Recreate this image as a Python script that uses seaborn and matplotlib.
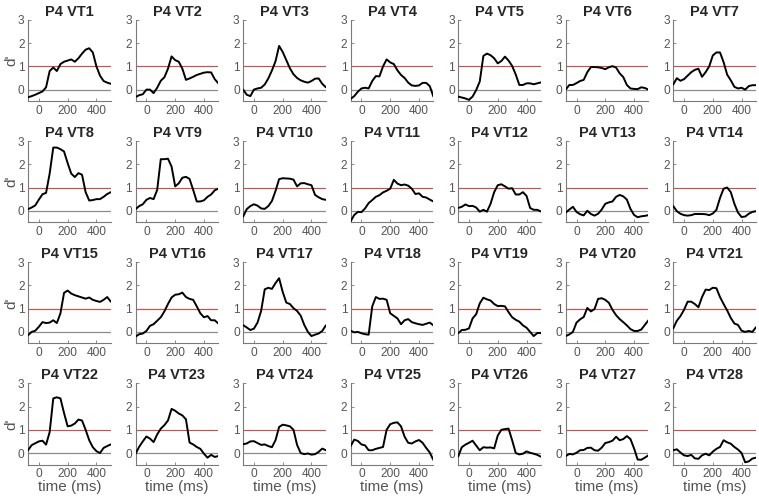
import numpy as np
import pandas as pd
import matplotlib
matplotlib.use('Agg')
import matplotlib.pyplot as plt
import seaborn as sns

sns.set_style('ticks')
plt.rcParams['font.family'] = ['Liberation Sans', 'DejaVu Sans']

# time axis (ms), one value every 25 ms
time_ms = [-75, -50, -25, 0, 25, 50, 75, 100, 125, 150, 175, 200,
           225, 250, 275, 300, 325, 350, 375, 400, 425, 450, 475, 500]

# d' curves, one list per electrode
vt1 = [-0.33, -0.28, -0.22, -0.15, -0.08, 0.1, 0.8, 0.95, 0.8, 1.1, 1.2, 1.25, 1.3, 1.2, 1.35, 1.55, 1.72, 1.78, 1.6, 1.0, 0.6, 0.37, 0.3, 0.25]
vt2 = [-0.32, -0.24, -0.2, 0.0, 0.0, -0.15, 0.08, 0.38, 0.53, 0.9, 1.43, 1.27, 1.2, 0.9, 0.42, 0.48, 0.55, 0.63, 0.68, 0.73, 0.75, 0.74, 0.45, 0.27]
vt3 = [0.0, -0.22, -0.28, 0.0, 0.05, 0.08, 0.22, 0.48, 0.82, 1.22, 1.88, 1.62, 1.27, 0.92, 0.66, 0.5, 0.4, 0.34, 0.3, 0.37, 0.47, 0.48, 0.25, 0.1]
vt4 = [-0.4, -0.28, -0.09, 0.05, 0.08, 0.05, 0.37, 0.58, 0.57, 1.0, 1.3, 1.17, 1.1, 0.83, 0.63, 0.5, 0.3, 0.18, 0.16, 0.18, 0.29, 0.29, 0.15, -0.3]
vt5 = [-0.3, -0.34, -0.38, -0.44, -0.3, -0.02, 0.35, 1.45, 1.55, 1.48, 1.35, 1.13, 1.23, 1.42, 1.25, 1.02, 0.65, 0.2, 0.2, 0.27, 0.27, 0.23, 0.27, 0.31]
vt6 = [0.0, 0.2, 0.2, 0.28, 0.37, 0.42, 0.75, 0.97, 0.97, 0.96, 0.93, 0.88, 0.96, 1.01, 0.95, 0.7, 0.54, 0.2, 0.05, 0.03, 0.02, 0.1, 0.07, 0.0]
vt7 = [0.22, 0.49, 0.38, 0.45, 0.6, 0.75, 0.85, 0.9, 0.55, 0.75, 1.0, 1.47, 1.6, 1.6, 1.18, 0.64, 0.4, 0.12, 0.05, 0.08, 0.0, 0.15, 0.19, 0.19]
vt8 = [0.07, 0.14, 0.23, 0.48, 0.71, 0.77, 1.6, 2.72, 2.72, 2.65, 2.55, 2.05, 1.6, 1.45, 1.62, 1.55, 0.8, 0.44, 0.46, 0.5, 0.5, 0.6, 0.72, 0.8]
vt9 = [0.07, 0.2, 0.28, 0.47, 0.55, 0.5, 0.9, 2.22, 2.22, 2.24, 1.9, 1.05, 1.18, 1.42, 1.46, 1.37, 0.9, 0.4, 0.4, 0.45, 0.6, 0.7, 0.88, 0.95]
vt10 = [-0.25, 0.07, 0.2, 0.28, 0.22, 0.1, 0.08, 0.2, 0.42, 0.85, 1.36, 1.4, 1.39, 1.38, 1.34, 1.05, 1.18, 1.19, 1.14, 1.1, 0.68, 0.58, 0.5, 0.47]
vt11 = [-0.45, -0.18, -0.05, -0.06, 0.1, 0.33, 0.46, 0.6, 0.67, 0.79, 0.86, 0.95, 1.33, 1.17, 1.1, 1.13, 1.08, 0.95, 0.72, 0.75, 0.6, 0.57, 0.48, 0.4]
vt12 = [0.12, 0.17, 0.27, 0.2, 0.21, 0.14, -0.04, 0.04, -0.04, 0.3, 0.8, 1.1, 1.14, 1.05, 0.95, 0.97, 0.7, 0.7, 0.8, 0.64, 0.12, 0.04, 0.04, -0.03]
vt13 = [-0.08, 0.05, 0.17, -0.05, -0.15, -0.2, 0.0, -0.14, -0.21, -0.13, 0.05, 0.3, 0.36, 0.4, 0.6, 0.68, 0.62, 0.48, 0.08, -0.18, -0.28, -0.24, -0.22, -0.19]
vt14 = [0.2, -0.02, -0.13, -0.19, -0.21, -0.19, -0.14, -0.14, -0.14, -0.15, -0.19, -0.12, 0.04, 0.55, 0.95, 1.0, 0.8, 0.3, -0.08, -0.27, -0.25, -0.13, -0.05, -0.02]
vt15 = [-0.14, 0.0, 0.05, 0.22, 0.42, 0.38, 0.4, 0.5, 0.38, 0.8, 1.68, 1.78, 1.65, 1.58, 1.53, 1.48, 1.43, 1.48, 1.38, 1.33, 1.29, 1.38, 1.5, 1.3]
vt16 = [-0.2, -0.1, -0.07, 0.04, 0.26, 0.33, 0.48, 0.63, 0.88, 1.2, 1.48, 1.6, 1.62, 1.69, 1.5, 1.42, 1.38, 1.1, 0.8, 0.63, 0.68, 0.5, 0.5, 0.36]
vt17 = [0.29, 0.19, 0.08, 0.14, 0.4, 0.9, 1.83, 1.9, 1.85, 2.1, 2.31, 1.72, 1.26, 1.2, 1.02, 0.9, 0.7, 0.3, 0.0, -0.18, -0.12, -0.07, 0.04, 0.28]
vt18 = [0.05, -0.02, 0.0, -0.06, -0.1, -0.12, 1.1, 1.5, 1.42, 1.43, 1.38, 0.8, 0.69, 0.58, 0.33, 0.5, 0.55, 0.42, 0.37, 0.33, 0.3, 0.35, 0.4, 0.28]
vt19 = [-0.06, 0.08, 0.09, 0.15, 0.58, 0.76, 1.23, 1.47, 1.4, 1.35, 1.2, 1.11, 1.12, 1.1, 0.85, 0.63, 0.52, 0.44, 0.28, 0.18, 0.0, -0.18, -0.05, -0.05]
vt20 = [-0.18, -0.11, 0.0, 0.4, 0.54, 0.64, 1.03, 0.88, 0.98, 1.42, 1.45, 1.38, 1.25, 0.95, 0.72, 0.55, 0.42, 0.28, 0.12, 0.04, 0.04, 0.1, 0.3, 0.5]
vt21 = [0.15, 0.48, 0.68, 0.95, 1.3, 1.3, 1.2, 1.06, 1.5, 1.82, 1.8, 1.9, 1.88, 1.5, 1.2, 0.92, 0.6, 0.36, 0.3, 0.05, 0.0, 0.04, 0.0, 0.2]
vt22 = [0.12, 0.34, 0.42, 0.5, 0.53, 0.36, 0.9, 2.35, 2.4, 2.35, 1.72, 1.15, 1.18, 1.27, 1.44, 1.4, 1.0, 0.55, 0.25, 0.08, 0.0, 0.22, 0.3, 0.37]
vt23 = [-0.03, 0.27, 0.5, 0.71, 0.62, 0.47, 0.8, 1.05, 1.2, 1.4, 1.9, 1.82, 1.7, 1.62, 1.45, 0.45, 0.37, 0.26, 0.18, -0.03, -0.2, -0.08, -0.17, -0.13]
vt24 = [0.38, 0.41, 0.5, 0.51, 0.43, 0.35, 0.37, 0.3, 0.25, 0.55, 1.12, 1.22, 1.19, 1.15, 1.0, 0.35, 0.0, -0.05, -0.02, -0.07, -0.05, 0.05, 0.19, 0.12]
vt25 = [0.3, 0.58, 0.52, 0.37, 0.33, 0.12, 0.12, 0.18, 0.22, 0.26, 1.0, 1.24, 1.3, 1.32, 1.15, 0.7, 0.44, 0.41, 0.5, 0.56, 0.44, 0.22, 0.02, -0.3]
vt26 = [-0.15, 0.25, 0.36, 0.44, 0.53, 0.32, 0.12, 0.25, 0.23, 0.24, 0.2, 0.75, 1.0, 1.03, 1.05, 0.55, 0.0, -0.06, -0.03, 0.07, 0.01, -0.03, -0.08, -0.16]
vt27 = [-0.13, -0.04, -0.06, 0.01, 0.12, 0.13, 0.22, 0.23, 0.12, 0.1, 0.23, 0.43, 0.47, 0.53, 0.7, 0.55, 0.6, 0.73, 0.6, 0.2, -0.28, -0.29, -0.2, -0.1]
vt28 = [0.12, 0.16, 0.02, -0.1, -0.13, -0.08, -0.23, -0.25, -0.1, -0.03, -0.1, 0.06, 0.18, 0.26, 0.55, 0.46, 0.4, 0.26, 0.15, 0.0, -0.4, -0.36, -0.24, -0.2]

curves = [vt1, vt2, vt3, vt4, vt5, vt6, vt7, vt8, vt9, vt10, vt11, vt12, vt13, vt14,
          vt15, vt16, vt17, vt18, vt19, vt20, vt21, vt22, vt23, vt24, vt25, vt26, vt27, vt28]
titles = ['P4 VT%d' % (i + 1) for i in range(28)]

fig, axes = plt.subplots(4, 7, figsize=(7.59, 4.98), dpi=100)
plt.subplots_adjust(left=0.037, right=0.996, top=0.96, bottom=0.067,
                    wspace=0.30, hspace=0.49)

for i, ax in enumerate(axes.flat):
    df = pd.DataFrame({'time': time_ms, 'dprime': curves[i]})
    ax.axhline(0, color='#8c8c8c', lw=0.9, zorder=1)
    ax.axhline(1, color='#c8514e', lw=0.85, zorder=1)
    sns.lineplot(data=df, x='time', y='dprime', ax=ax, color='black', lw=1.4, zorder=3)
    ax.set_xlim(-75, 500)
    ax.set_ylim(-0.5, 3)
    ax.set_xticks([0, 200, 400])
    ax.set_yticks([0, 1, 2, 3])
    ax.set_title(titles[i], fontsize=10.5, fontweight='bold', pad=3)
    sns.despine(ax=ax)
    for s in ['left', 'bottom']:
        ax.spines[s].set_color('#7a7a7a')
        ax.spines[s].set_linewidth(0.8)
    ax.tick_params(direction='in', length=2, width=0.6, colors='#7a7a7a',
                   labelcolor='#555555', labelsize=8.6, pad=2.5)
    ax.set_ylabel("d'" if i % 7 == 0 else '', fontsize=11, color='#555555', labelpad=0)
    ax.set_xlabel('time (ms)' if i >= 21 else '', fontsize=11, color='#555555', labelpad=0)

fig.savefig('out.png', dpi=100)
